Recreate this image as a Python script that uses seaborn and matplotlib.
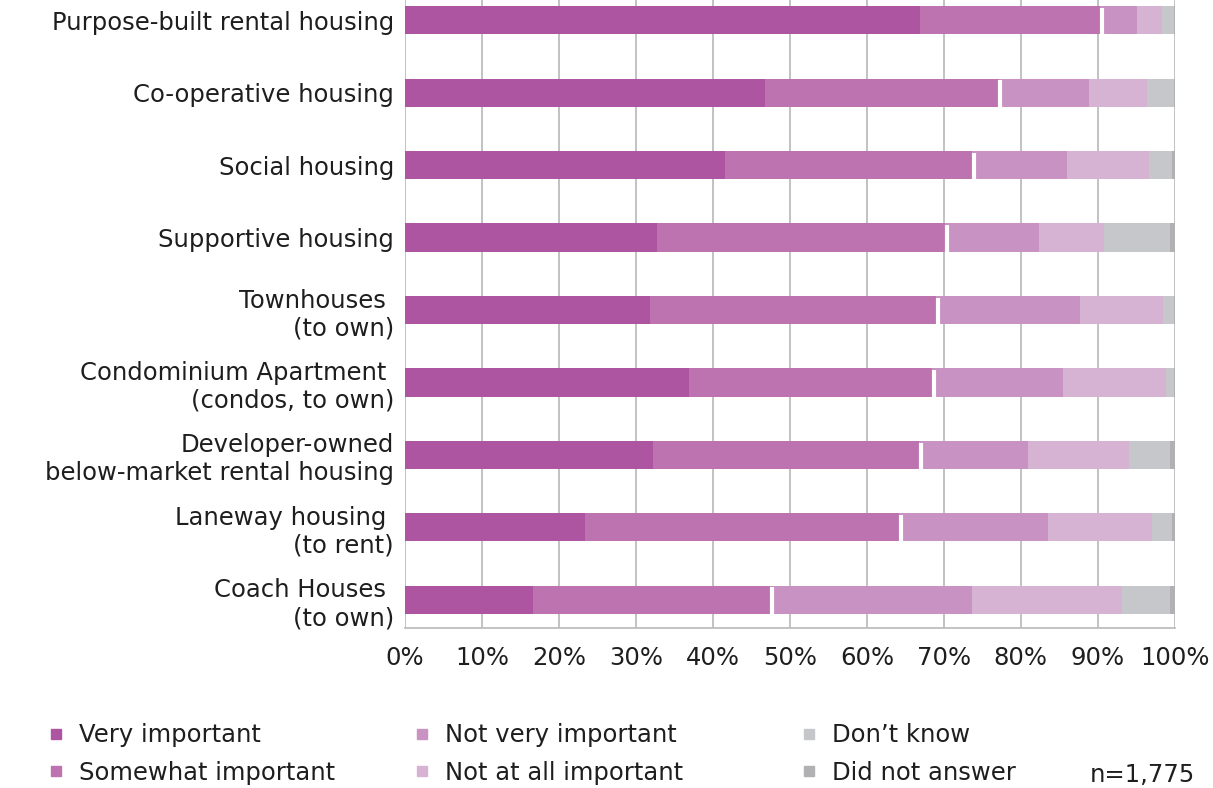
import numpy as np
import matplotlib.pyplot as plt
import seaborn as sns
from matplotlib.lines import Line2D

# categories (top to bottom)
categorias = ['Purpose-built rental housing',
              'Co-operative housing',
              'Social housing',
              'Supportive housing',
              'Townhouses \n(to own)',
              'Condominium Apartment \n(condos, to own)',
              'Developer-owned\nbelow-market rental housing',
              'Laneway housing \n(to rent)',
              'Coach Houses \n(to own)']

# percentages per answer
very_important = [66.9, 46.8, 41.6, 32.7, 31.8, 36.9, 32.2, 23.4, 16.6]
somewhat_important = [23.4, 30.3, 32.0, 37.4, 37.2, 31.5, 34.6, 40.8, 30.8]
not_very_important = [4.8, 11.7, 12.4, 12.2, 18.7, 17.1, 14.1, 19.3, 26.2]
not_at_all_important = [3.3, 7.6, 10.7, 8.5, 10.8, 13.3, 13.2, 13.6, 19.6]
dont_know = [1.5, 3.5, 3.0, 8.6, 1.4, 1.1, 5.3, 2.5, 6.2]
did_not_answer = [0.1, 0.1, 0.3, 0.6, 0.1, 0.1, 0.6, 0.4, 0.6]

respostas = ['Very important', 'Somewhat important', 'Not very important',
             'Not at all important', 'Don\u2019t know', 'Did not answer']
cores = ['#AD55A0', '#BC73B0', '#C892C3', '#D7B3D3', '#C6C7CA', '#B1B1B3']
xticks = list(range(0, 101, 10))

sns.set_style('white')
plt.rcParams['font.family'] = ['DejaVu Sans']
plt.rcParams['text.color'] = '#1E1E1E'
plt.rcParams['xtick.color'] = '#1E1E1E'
plt.rcParams['ytick.color'] = '#1E1E1E'

fig = plt.figure(figsize=(12.13, 7.88), dpi=100)
ax = fig.add_axes([0.334, 0.203, 0.6345, 0.797])

series = np.array([very_important, somewhat_important, not_very_important,
                   not_at_all_important, dont_know, did_not_answer])
acumulado = np.cumsum(series, axis=0)

# stacked bars: draw the longest cumulative first, then overlay
for i in reversed(range(len(respostas))):
    sns.barplot(x=acumulado[i], y=categorias, orient='h', color=cores[i],
                saturation=1, width=0.39, linewidth=0, ax=ax)

# white divider between "somewhat" and "not very"
posicoes = np.arange(len(categorias))
ax.vlines(acumulado[1] + 0.25, posicoes - 0.17, posicoes + 0.195,
          color='white', linewidth=3, zorder=5)

ax.set_xlim(0, 100)
ax.set_ylim(8.39, -0.28)
ax.set_xticks(xticks)
ax.set_xticklabels([f'{v}%' for v in xticks], fontsize=17.5)
ax.tick_params(axis='y', labelsize=17.5, length=0, pad=8)
ax.tick_params(axis='x', length=0, pad=13)
ax.set_xlabel('')
ax.set_ylabel('')

ax.xaxis.grid(True, color='#BDBDBD', linewidth=1.3)
ax.yaxis.grid(False)
ax.set_axisbelow(True)
for lado in ['top', 'right', 'left']:
    ax.spines[lado].set_visible(False)
ax.spines['bottom'].set_color('#BDBDBD')
ax.spines['bottom'].set_linewidth(1.3)

# legend in three separate columns
posicoes_legenda = [0.036, 0.338, 0.657]
for k, x0 in enumerate(posicoes_legenda):
    handles = [Line2D([], [], marker='s', linestyle='', markersize=7,
                      color=cores[j]) for j in (2 * k, 2 * k + 1)]
    rotulos = [respostas[2 * k], respostas[2 * k + 1]]
    fig.legend(handles, rotulos, loc='upper left', bbox_to_anchor=(x0, 0.082),
               frameon=False, fontsize=17.5, handlelength=1.0,
               handletextpad=0.45, labelspacing=0.55, borderpad=0,
               borderaxespad=0)

fig.text(0.985, 1 - 775 / 788, 'n=1,775', ha='right', va='center', fontsize=17.5)

fig.savefig('out.png', dpi=100)
